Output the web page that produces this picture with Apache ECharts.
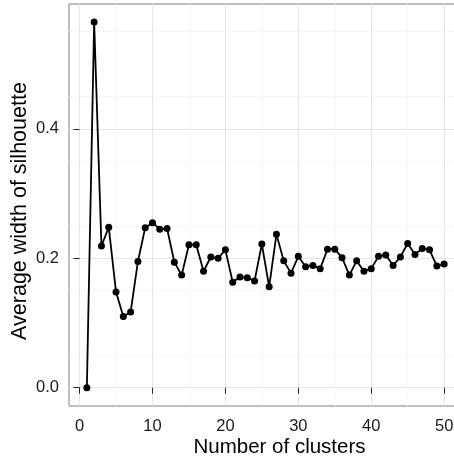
<!DOCTYPE html>
<html>
<head>
<meta charset="utf-8">
<script src="https://cdn.jsdelivr.net/npm/echarts@6/dist/echarts.min.js"></script>
<style>
html, body { margin: 0; padding: 0; background: #fff; }
#main { width: 454px; height: 459px; }
</style>
</head>
<body>
<div id="main"></div>
<script>
// number of clusters k
var clusters = [1, 2, 3, 4, 5, 6, 7, 8, 9, 10,
  11, 12, 13, 14, 15, 16, 17, 18, 19, 20,
  21, 22, 23, 24, 25, 26, 27, 28, 29, 30,
  31, 32, 33, 34, 35, 36, 37, 38, 39, 40,
  41, 42, 43, 44, 45, 46, 47, 48, 49, 50];
// average silhouette width for each k
var silhouette = [0.000, 0.565, 0.219, 0.248, 0.148, 0.110, 0.117, 0.195, 0.247, 0.255,
  0.245, 0.246, 0.194, 0.174, 0.221, 0.221, 0.180, 0.202, 0.200, 0.213,
  0.163, 0.171, 0.170, 0.165, 0.222, 0.156, 0.237, 0.196, 0.177, 0.203,
  0.187, 0.189, 0.184, 0.214, 0.214, 0.201, 0.174, 0.196, 0.180, 0.184,
  0.203, 0.205, 0.189, 0.202, 0.223, 0.206, 0.215, 0.213, 0.188, 0.191];
var xTicks = [0, 10, 20, 30, 40, 50];
var yTicks = [0, 0.2, 0.4];

var points = clusters.map(function (k, i) { return [k, silhouette[i]]; });

var myChart = echarts.init(document.getElementById('main'));

var option = {
  animation: false,
  backgroundColor: '#fff',
  textStyle: { fontFamily: '"Liberation Sans", Arial, sans-serif' },
  grid: {
    left: 69, top: 4, right: -8, bottom: 53,
    containLabel: false,
    outerBoundsMode: 'none',
    show: true, borderColor: '#7f7f7f', borderWidth: 1, backgroundColor: '#fff'
  },
  xAxis: {
    type: 'value',
    min: -1.45, max: 52.45,
    name: 'Number of clusters',
    nameLocation: 'middle',
    nameGap: 31,
    nameMoveOverlap: false,
    nameTextStyle: { fontSize: 20.5, color: '#000', padding: [0, 0, 0, 28] },
    axisLine: { show: false },
    axisTick: { show: true, length: 6, lineStyle: { color: '#222' }, customValues: xTicks },
    axisLabel: { fontSize: 16.5, color: '#1a1a1a', margin: 12, customValues: xTicks },
    splitLine: { show: true, lineStyle: { color: '#e5e5e5', width: 1 } },
    minorTick: { show: false, splitNumber: 2 },
    minorSplitLine: { show: true, lineStyle: { color: '#f7f7f7', width: 1 } }
  },
  yAxis: {
    type: 'value',
    min: -0.0282, max: 0.5928,
    name: 'Average width of silhouette',
    nameLocation: 'middle',
    nameGap: 38,
    nameMoveOverlap: false,
    nameTextStyle: { fontSize: 21.5, color: '#000', padding: [0, 12, 0, 0] },
    axisLine: { show: false },
    axisTick: { show: true, length: 6, lineStyle: { color: '#222' }, customValues: yTicks },
    axisLabel: {
      fontSize: 16.5, color: '#1a1a1a', margin: 10, customValues: yTicks,
      formatter: function (v) { return v.toFixed(1); }
    },
    splitLine: { show: true, lineStyle: { color: '#e5e5e5', width: 1 } },
    minorTick: { show: false, splitNumber: 2 },
    minorSplitLine: { show: true, lineStyle: { color: '#f7f7f7', width: 1 } }
  },
  series: [{
    type: 'line',
    data: points,
    symbol: 'circle',
    symbolSize: 7,
    showAllSymbol: true,
    itemStyle: { color: '#000' },
    lineStyle: { color: '#000', width: 1.8 }
  }]
};

myChart.setOption(option);
</script>
</body>
</html>
